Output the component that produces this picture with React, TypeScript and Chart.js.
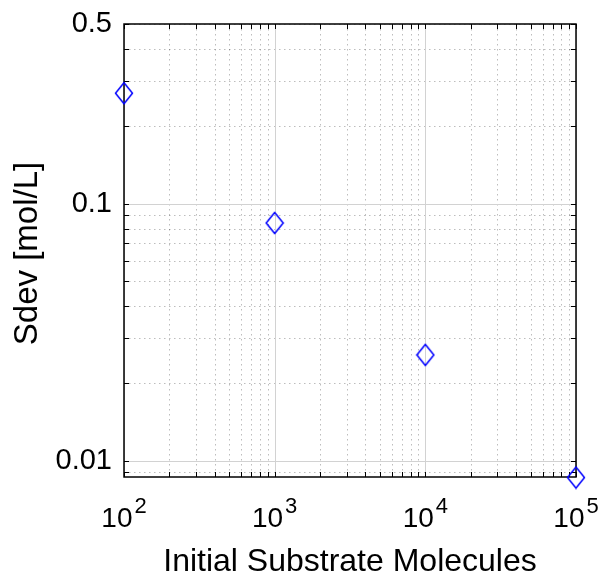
import React, { useEffect, useRef } from "react";
import { Chart, registerables } from "chart.js";

Chart.register(...registerables);

// ---- data ----
const moleculeCounts = [100, 1000, 10000, 100000];
const sdevValues = [0.269, 0.0841, 0.0258, 0.0086];
const xTickValues = [100, 1000, 10000, 100000];
const xTickExponents = ["2", "3", "4", "5"];
const yTickValues = [0.5, 0.1, 0.01];
const yTickLabels = ["0.5", "0.1", "0.01"];
const xMin = 100;
const xMax = 100000;
const yMin = 0.00864;
const yMax = 0.5;
const xTitle = "Initial Substrate Molecules";
const yTitle = "Sdev [mol/L]";

const FONT = "'Liberation Sans', Arial, Helvetica, sans-serif";

function logSteps(min: number, max: number): { v: number; major: boolean }[] {
  const out: { v: number; major: boolean }[] = [];
  const e0 = Math.floor(Math.log10(min)) - 1;
  const e1 = Math.ceil(Math.log10(max)) + 1;
  for (let e = e0; e <= e1; e++) {
    for (let m = 1; m <= 9; m++) {
      const v = m * Math.pow(10, e);
      if (v >= min * 0.9999 && v <= max * 1.0001) out.push({ v, major: m === 1 });
    }
  }
  return out;
}

function makeDiamond(): HTMLCanvasElement {
  const c = document.createElement("canvas");
  c.width = 20;
  c.height = 24;
  const g = c.getContext("2d")!;
  g.strokeStyle = "#0000ff";
  g.lineWidth = 1.5;
  g.beginPath();
  g.moveTo(10, 1.5);
  g.lineTo(18.5, 12);
  g.lineTo(10, 22.5);
  g.lineTo(1.5, 12);
  g.closePath();
  g.stroke();
  return c;
}

const axesPlugin = {
  id: "matlabAxes",
  beforeDatasetsDraw(chart: any) {
    const { ctx, chartArea } = chart;
    const xs = chart.scales.x;
    const ys = chart.scales.y;
    const { left, right, top, bottom } = chartArea;
    ctx.save();
    // minor dotted grid
    ctx.lineWidth = 1;
    ctx.strokeStyle = "rgba(0,0,0,0.26)";
    ctx.setLineDash([1.5, 3.5]);
    for (const t of logSteps(xMin, xMax)) {
      if (t.major) continue;
      const px = Math.round(xs.getPixelForValue(t.v)) + 0.5;
      ctx.beginPath();
      ctx.moveTo(px, top);
      ctx.lineTo(px, bottom);
      ctx.stroke();
    }
    for (const t of logSteps(yMin, yMax)) {
      if (t.major) continue;
      const py = Math.round(ys.getPixelForValue(t.v)) + 0.5;
      ctx.beginPath();
      ctx.moveTo(left, py);
      ctx.lineTo(right, py);
      ctx.stroke();
    }
    // major solid grid
    ctx.setLineDash([]);
    ctx.strokeStyle = "#d2d2d2";
    for (const t of logSteps(xMin, xMax)) {
      if (!t.major) continue;
      const px = Math.round(xs.getPixelForValue(t.v)) + 0.5;
      ctx.beginPath();
      ctx.moveTo(px, top);
      ctx.lineTo(px, bottom);
      ctx.stroke();
    }
    for (const t of logSteps(yMin, yMax)) {
      if (!t.major) continue;
      const py = Math.round(ys.getPixelForValue(t.v)) + 0.5;
      ctx.beginPath();
      ctx.moveTo(left, py);
      ctx.lineTo(right, py);
      ctx.stroke();
    }
    // box
    ctx.strokeStyle = "#000";
    ctx.lineWidth = 1.5;
    ctx.strokeRect(left, top, right - left, bottom - top);
    // inward ticks on all sides
    const tl = 5;
    ctx.lineWidth = 1;
    for (const t of logSteps(xMin, xMax)) {
      const px = Math.round(xs.getPixelForValue(t.v)) + 0.5;
      ctx.beginPath();
      ctx.moveTo(px, bottom);
      ctx.lineTo(px, bottom - tl);
      ctx.moveTo(px, top);
      ctx.lineTo(px, top + tl);
      ctx.stroke();
    }
    for (const t of logSteps(yMin, yMax)) {
      const py = Math.round(ys.getPixelForValue(t.v)) + 0.5;
      ctx.beginPath();
      ctx.moveTo(left, py);
      ctx.lineTo(left + tl, py);
      ctx.moveTo(right, py);
      ctx.lineTo(right - tl, py);
      ctx.stroke();
    }
    ctx.restore();
  },
  afterDraw(chart: any) {
    const { ctx, chartArea } = chart;
    const xs = chart.scales.x;
    const ys = chart.scales.y;
    ctx.save();
    ctx.fillStyle = "#000";
    // y tick labels
    ctx.font = `29px ${FONT}`;
    ctx.textAlign = "right";
    ctx.textBaseline = "middle";
    yTickValues.forEach((v, i) => {
      ctx.fillText(yTickLabels[i], chartArea.left - 12, ys.getPixelForValue(v));
    });
    // x tick labels with superscripts
    ctx.textAlign = "left";
    ctx.textBaseline = "alphabetic";
    xTickValues.forEach((v, i) => {
      const px = xs.getPixelForValue(v);
      ctx.font = `28px ${FONT}`;
      const w1 = ctx.measureText("10").width;
      ctx.font = `22px ${FONT}`;
      const w2 = ctx.measureText(xTickExponents[i]).width;
      const gap = 2;
      const x0 = px - (w1 + gap + w2) / 2;
      ctx.font = `28px ${FONT}`;
      ctx.fillText("10", x0, 527);
      ctx.font = `22px ${FONT}`;
      ctx.fillText(xTickExponents[i], x0 + w1 + gap, 513);
    });
    // axis titles
    ctx.font = `32px ${FONT}`;
    ctx.textAlign = "center";
    ctx.fillText(xTitle, (chartArea.left + chartArea.right) / 2, 571);
    ctx.font = `33px ${FONT}`;
    ctx.translate(28, (chartArea.top + chartArea.bottom) / 2 + 3);
    ctx.rotate(-Math.PI / 2);
    ctx.textBaseline = "middle";
    ctx.fillText(yTitle, 0, 0);
    ctx.restore();
  },
};

export default function App() {
  const ref = useRef<HTMLCanvasElement | null>(null);
  useEffect(() => {
    if (!ref.current) return;
    const diamond = makeDiamond();
    const chart = new Chart(ref.current, {
      type: "scatter",
      data: {
        datasets: [
          {
            data: moleculeCounts.map((x, i) => ({ x, y: sdevValues[i] })),
            pointStyle: diamond as any,
            pointRadius: 10,
            showLine: false,
            clip: false as any,
          },
        ],
      },
      options: {
        responsive: false,
        animation: false,
        layout: { padding: { left: 124, top: 24, right: 27, bottom: 102 } },
        plugins: { legend: { display: false }, tooltip: { enabled: false } },
        scales: {
          x: { type: "logarithmic", min: xMin, max: xMax, display: false },
          y: { type: "logarithmic", min: yMin, max: yMax, display: false },
        },
      },
      plugins: [axesPlugin],
    });
    return () => chart.destroy();
  }, []);
  return (
    <div style={{ position: "absolute", left: 0, top: 0, width: 603, height: 579, background: "#fff" }}>
      <canvas ref={ref} width={603} height={579} style={{ display: "block" }} />
    </div>
  );
}
